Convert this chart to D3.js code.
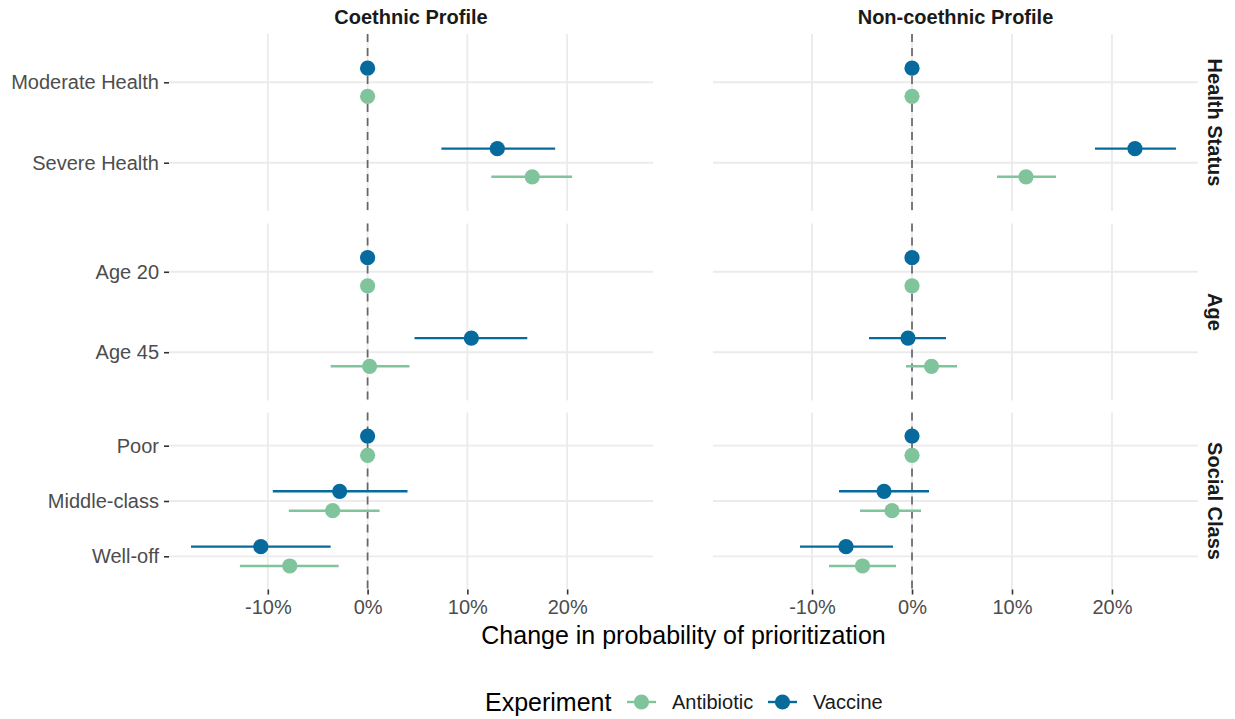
<!DOCTYPE html>
<html>
<head>
<meta charset="utf-8">
<script src="https://cdn.jsdelivr.net/npm/d3@7"></script>
<style>
  body { margin: 0; background: #fff; }
  text { font-family: "Liberation Sans", Arial, Helvetica, sans-serif; }
</style>
</head>
<body>
<svg id="chart" width="1235" height="719"></svg>
<script>
// ---- Data -------------------------------------------------------------
const profiles = ["Coethnic Profile", "Non-coethnic Profile"];
const attributes = ["Health Status", "Age", "Social Class"];
const healthLevels = ["Moderate Health", "Severe Health"];
const ageLevels = ["Age 20", "Age 45"];
const classLevels = ["Poor", "Middle-class", "Well-off"];
const experiments = ["Antibiotic", "Vaccine"];
const xTickValues = [-0.1, 0, 0.1, 0.2];

// Estimates and 95% intervals, in level order:
// Moderate Health, Severe Health, Age 20, Age 45, Poor, Middle-class, Well-off
const vaccineCoethnicEst    = [0, 0.130, 0, 0.104, 0, -0.028, -0.107];
const vaccineCoethnicLow    = [0, 0.074, 0, 0.047, 0, -0.095, -0.177];
const vaccineCoethnicHigh   = [0, 0.188, 0, 0.160, 0,  0.040, -0.037];
const antibioticCoethnicEst  = [0, 0.165, 0,  0.002, 0, -0.035, -0.078];
const antibioticCoethnicLow  = [0, 0.124, 0, -0.037, 0, -0.079, -0.128];
const antibioticCoethnicHigh = [0, 0.205, 0,  0.042, 0,  0.012, -0.029];
const vaccineNoncoethnicEst  = [0, 0.223, 0, -0.004, 0, -0.028, -0.066];
const vaccineNoncoethnicLow  = [0, 0.183, 0, -0.043, 0, -0.073, -0.112];
const vaccineNoncoethnicHigh = [0, 0.264, 0,  0.034, 0,  0.017, -0.019];
const antibioticNoncoethnicEst  = [0, 0.114, 0,  0.0195, 0, -0.020, -0.0495];
const antibioticNoncoethnicLow  = [0, 0.085, 0, -0.006,  0, -0.052, -0.083];
const antibioticNoncoethnicHigh = [0, 0.144, 0,  0.045,  0,  0.009, -0.016];

// ---- Assemble long-format rows ------------------------------------------
const levelsByAttribute = [healthLevels, ageLevels, classLevels];
const levelList = [];
levelsByAttribute.forEach((lv, ai) => lv.forEach(l => levelList.push({ attribute: attributes[ai], level: l })));

const seriesTable = {
  "Coethnic Profile": {
    Vaccine:    [vaccineCoethnicEst, vaccineCoethnicLow, vaccineCoethnicHigh],
    Antibiotic: [antibioticCoethnicEst, antibioticCoethnicLow, antibioticCoethnicHigh]
  },
  "Non-coethnic Profile": {
    Vaccine:    [vaccineNoncoethnicEst, vaccineNoncoethnicLow, vaccineNoncoethnicHigh],
    Antibiotic: [antibioticNoncoethnicEst, antibioticNoncoethnicLow, antibioticNoncoethnicHigh]
  }
};

const rows = [];
profiles.forEach(p => experiments.forEach(e => {
  const [est, lo, hi] = seriesTable[p][e];
  levelList.forEach((lv, i) => rows.push({
    profile: p, experiment: e, attribute: lv.attribute, level: lv.level,
    est: est[i], lo: lo[i], hi: hi[i]
  }));
}));

// ---- Layout -------------------------------------------------------------
const colors = { Antibiotic: "#80c49b", Vaccine: "#066a9d" };
const panelCols = [{ x0: 169, x1: 653 }, { x0: 713, x1: 1198 }];
const panelTops = [34, 223.5, 412.5];
const panelH = 177;
const dodge = { Vaccine: -0.175, Antibiotic: 0.175 };
const gridColor = "#ebebeb";

const svg = d3.select("#chart");

// shared x domain with 5% expansion on each side
const ext = d3.extent(rows.flatMap(r => [r.lo, r.hi, r.est]));
const pad = (ext[1] - ext[0]) * 0.05;
const xDomain = [ext[0] - pad, ext[1] + pad];
const xScales = panelCols.map(c => d3.scaleLinear().domain(xDomain).range([c.x0, c.x1]));
const pctFmt = d => Math.round(d * 100) + "%";

const yScales = levelsByAttribute.map((lv, ri) =>
  d3.scalePoint().domain(lv).range([panelTops[ri], panelTops[ri] + panelH]).padding(0.6));

profiles.forEach((p, ci) => {
  const x = xScales[ci];
  attributes.forEach((a, ri) => {
    const y = yScales[ri];
    const step = y.step();
    const g = svg.append("g");

    // grid
    g.selectAll("line.vgrid").data(xTickValues).join("line")
      .attr("x1", d => x(d)).attr("x2", d => x(d))
      .attr("y1", panelTops[ri]).attr("y2", panelTops[ri] + panelH)
      .attr("stroke", gridColor).attr("stroke-width", 1.8);
    g.selectAll("line.hgrid").data(y.domain()).join("line")
      .attr("x1", panelCols[ci].x0).attr("x2", panelCols[ci].x1)
      .attr("y1", d => y(d)).attr("y2", d => y(d))
      .attr("stroke", gridColor).attr("stroke-width", 1.8);

    // reference line at zero
    g.append("line")
      .attr("x1", x(0)).attr("x2", x(0))
      .attr("y1", panelTops[ri]).attr("y2", panelTops[ri] + panelH)
      .attr("stroke", "#666666").attr("stroke-width", 1.7)
      .attr("stroke-dasharray", "8,6");

    const sub = rows.filter(r => r.profile === p && r.attribute === a);
    const yPos = r => y(r.level) + dodge[r.experiment] * step;

    // intervals
    g.selectAll("line.ci").data(sub).join("line")
      .attr("x1", r => x(r.lo)).attr("x2", r => x(r.hi))
      .attr("y1", yPos).attr("y2", yPos)
      .attr("stroke", r => colors[r.experiment]).attr("stroke-width", 2.4);

    // point estimates
    g.selectAll("circle").data(sub).join("circle")
      .attr("cx", r => x(r.est)).attr("cy", yPos).attr("r", 7.6)
      .attr("fill", r => colors[r.experiment]);

    // y axis on left column
    if (ci === 0) {
      const ax = svg.append("g").attr("transform", `translate(${panelCols[0].x0},0)`)
        .call(d3.axisLeft(y).tickSize(5).tickPadding(5));
      ax.select(".domain").remove();
      ax.selectAll(".tick line").attr("stroke", "#333333").attr("stroke-width", 1.6);
      ax.selectAll(".tick text").attr("fill", "#4d4d4d").style("font-size", "20px")
        .style("font-family", '"Liberation Sans", Arial, sans-serif');
    }
    // x axis on bottom row
    if (ri === attributes.length - 1) {
      const ax = svg.append("g").attr("transform", `translate(0,${panelTops[ri] + panelH})`)
        .call(d3.axisBottom(x).tickValues(xTickValues).tickFormat(pctFmt).tickSize(5).tickPadding(5));
      ax.select(".domain").remove();
      ax.selectAll(".tick line").attr("stroke", "#333333").attr("stroke-width", 1.6);
      ax.selectAll(".tick text").attr("fill", "#4d4d4d").style("font-size", "20px")
        .style("font-family", '"Liberation Sans", Arial, sans-serif');
    }
    // right strips
    if (ci === profiles.length - 1) {
      svg.append("text")
        .attr("transform", `translate(1215,${panelTops[ri] + panelH / 2}) rotate(90)`)
        .attr("text-anchor", "middle").attr("dominant-baseline", "central")
        .style("font-size", "20px").style("font-weight", "bold").attr("fill", "#1a1a1a")
        .text(a);
    }
  });
  // top strips
  svg.append("text")
    .attr("x", (panelCols[ci].x0 + panelCols[ci].x1) / 2).attr("y", 24)
    .attr("text-anchor", "middle")
    .style("font-size", "20px").style("font-weight", "bold").attr("fill", "#1a1a1a")
    .text(p);
});

// axis title
svg.append("text")
  .attr("x", (panelCols[0].x0 + panelCols[1].x1) / 2).attr("y", 635)
  .attr("text-anchor", "middle").attr("dominant-baseline", "central")
  .style("font-size", "25px").attr("fill", "#000")
  .text("Change in probability of prioritization");

// legend
const legY = 702;
const legend = svg.append("g");
legend.append("text").attr("x", 485).attr("y", legY).attr("dominant-baseline", "central")
  .style("font-size", "25px").attr("fill", "#000").text("Experiment");
const keyX = { Antibiotic: 627, Vaccine: 768 };
experiments.forEach(e => {
  const k = legend.append("g").attr("transform", `translate(${keyX[e]},${legY})`);
  k.append("line").attr("x1", 0).attr("x2", 29).attr("stroke", colors[e]).attr("stroke-width", 2.4);
  k.append("circle").attr("cx", 14.5).attr("r", 7.6).attr("fill", colors[e]);
  k.append("text").attr("x", 45).attr("dominant-baseline", "central")
    .style("font-size", "20px").attr("fill", "#1a1a1a").text(e);
});
</script>
</body>
</html>
